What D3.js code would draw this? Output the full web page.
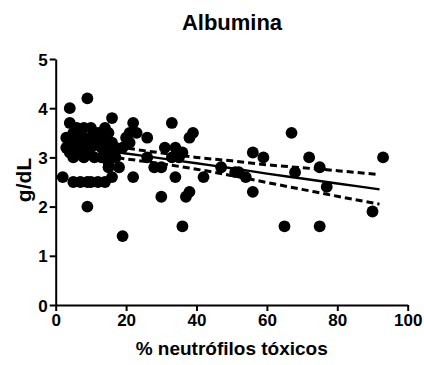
<!DOCTYPE html>
<html>
<head>
<meta charset="utf-8">
<script src="https://cdn.jsdelivr.net/npm/d3@7"></script>
<style>
  html, body { margin: 0; padding: 0; background: #fff; }
  svg text { font-family: "Liberation Sans", Arial, sans-serif; font-weight: bold; fill: #000; }
</style>
</head>
<body>
<svg id="chart" width="424" height="365"></svg>
<script>
// % toxic neutrophils vs. albumin (g/dL)
const neutrofilos = [2,3,3,4,4,4,4,5,5,5,5,6,6,6,7,7,7,8,8,8,9,9,9,9,9,10,10,10,10,11,12,12,12,13,13,13,14,14,14,15,15,15,15,16,16,16,17,17,18,19,19,20,21,21,22,22,23,26,26,28,30,30,31,33,33,34,34,35,36,36,37,38,38,39,42,47,51,52,54,56,56,59,65,67,68,72,75,75,77,90,93];
const albumina    = [2.6,3.4,3.2,4.0,3.7,3.3,3.1,3.5,3.2,3.0,2.5,3.6,3.3,3.1,3.5,3.2,2.5,3.4,3.0,3.6,4.2,3.3,3.1,2.5,2.0,3.6,3.4,3.2,2.5,3.0,3.3,3.5,2.5,3.4,3.2,3.0,3.6,3.3,2.5,3.5,3.1,2.9,2.8,3.8,3.3,2.6,3.2,3.0,2.8,1.4,3.2,3.4,3.5,3.3,3.7,2.6,3.5,3.4,3.0,2.8,2.8,2.2,3.2,3.7,3.0,3.2,2.6,3.0,3.1,1.6,2.2,2.3,3.4,3.5,2.6,2.8,2.7,2.7,2.6,3.1,2.3,3.0,1.6,3.5,2.7,3.0,2.8,1.6,2.4,1.9,3.0];

// Linear fit and its 95% confidence band
const fitX     = [2, 10, 20, 30, 40, 50, 60, 70, 80, 92];
const fitY     = [3.26, 3.18, 3.08, 2.98, 2.88, 2.78, 2.67, 2.57, 2.47, 2.35];
const bandHigh = [3.39, 3.30, 3.19, 3.09, 3.00, 2.93, 2.85, 2.79, 2.73, 2.65];
const bandLow  = [3.12, 3.06, 2.97, 2.87, 2.76, 2.63, 2.49, 2.35, 2.21, 2.05];

const xTicks = [0, 20, 40, 60, 80, 100];
const yTicks = [0, 1, 2, 3, 4, 5];

const svg = d3.select("#chart");
const x = d3.scaleLinear().domain([0, 100]).range([55.7, 407.7]);
const y = d3.scaleLinear().domain([0, 5]).range([305, 59]);

// points
svg.append("g").selectAll("circle")
  .data(neutrofilos.map((v, i) => [v, albumina[i]]))
  .join("circle")
  .attr("cx", d => x(d[0]))
  .attr("cy", d => y(d[1]))
  .attr("r", 5.9)
  .attr("fill", "#000");

// fit lines
const line = d3.line().x(d => x(d[0])).y(d => y(d[1])).curve(d3.curveMonotoneX);
const lines = [
  { ys: fitY, dash: null, w: 2.4 },
  { ys: bandHigh, dash: "7,4", w: 3 },
  { ys: bandLow, dash: "7,4", w: 3 }
];
svg.append("g").selectAll("path")
  .data(lines)
  .join("path")
  .attr("d", l => line(fitX.map((v, i) => [v, l.ys[i]])))
  .attr("fill", "none")
  .attr("stroke", "#000")
  .attr("stroke-width", l => l.w)
  .attr("stroke-dasharray", l => l.dash);

// axes
const xAxis = svg.append("g").attr("transform", "translate(0,305)")
  .call(d3.axisBottom(x).tickValues(xTicks).tickFormat(d3.format("d")).tickSize(6).tickPadding(3).tickSizeOuter(0));
const yAxis = svg.append("g").attr("transform", "translate(55.7,0)")
  .call(d3.axisLeft(y).tickValues(yTicks).tickFormat(d3.format("d")).tickSize(6).tickPadding(2).tickSizeOuter(0));

[xAxis, yAxis].forEach(a => {
  a.select(".domain").attr("stroke", "#000").attr("stroke-width", 2);
  a.selectAll(".tick line").attr("stroke", "#000").attr("stroke-width", 2);
  a.selectAll(".tick text").attr("font-size", 17).attr("font-family", "Liberation Sans, Arial, sans-serif").attr("font-weight", "bold");
});
yAxis.selectAll(".tick text").attr("dy", "0.36em");

// titles
svg.append("text").attr("x", 232).attr("y", 30).attr("text-anchor", "middle")
  .attr("font-size", 22).text("Albumina");
svg.append("text").attr("x", 231.7).attr("y", 355).attr("text-anchor", "middle")
  .attr("font-size", 19).text("% neutrófilos tóxicos");
svg.append("text").attr("transform", "translate(31,180) rotate(-90)").attr("text-anchor", "middle")
  .attr("font-size", 21).text("g/dL");
</script>
</body>
</html>
